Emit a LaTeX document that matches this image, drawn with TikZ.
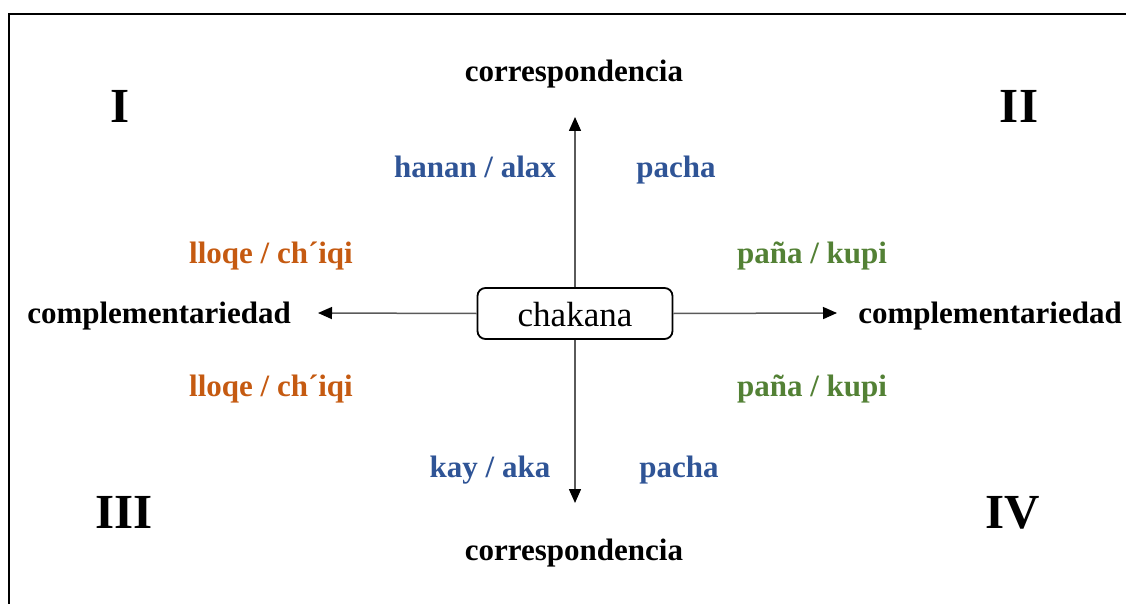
\documentclass[tikz,border=0pt]{standalone}
\usepackage{fontspec}
\setmainfont{Liberation Serif}
\usetikzlibrary{arrows.meta}
\definecolor{lblblue}{HTML}{2F5496}
\definecolor{lblorange}{HTML}{C55A11}
\definecolor{lblgreen}{HTML}{538135}
\definecolor{axisgray}{HTML}{5A5A5A}
\tikzset{
  lbl/.style={anchor=base, inner sep=0pt, font=\fontsize{31}{31}\selectfont\bfseries},
  roman/.style={anchor=base, inner sep=0pt, font=\fontsize{49}{49}\selectfont\bfseries},
  centerbox/.style={draw=black, line width=1.8pt, rounded corners=8pt, minimum width=195pt, minimum height=51pt, inner sep=0pt},
  axis/.style={draw=axisgray, line width=1.5pt, -{Triangle[length=14pt,width=12pt,color=black]}},
}
\begin{document}
\begin{tikzpicture}[x=1pt,y=-1pt]
\useasboundingbox (0,0) rectangle (1126,604);
\draw[line width=2pt] (9,604) -- (9,14) -- (1126,14);

\node[centerbox] (chk) at (575,313.5) {};
\node[anchor=base, inner sep=0pt, font=\fontsize{35}{35}\selectfont] (chktxt) at (575,326) {chakana};

\node[lbl] (ctop) at (574,82) {correspondencia};
\node[lbl] (cbot) at (574,560) {correspondencia};
\node[lbl] (cleft) at (159,323) {complementariedad};
\node[lbl] (cright) at (990,323) {complementariedad};

\node[lbl, text=lblblue] (hanan) at (475,178) {hanan / alax};
\node[lbl, text=lblblue] (pachatop) at (676,178) {pacha};
\node[lbl, text=lblblue] (kay) at (490,477) {kay / aka};
\node[lbl, text=lblblue] (pachabot) at (679,477) {pacha};

\node[lbl, text=lblorange] (lloqeup) at (271,263) {lloqe / ch´iqi};
\node[lbl, text=lblorange] (lloqedn) at (271,396) {lloqe / ch´iqi};
\node[lbl, text=lblgreen] (panaup) at (812,263) {paña / kupi};
\node[lbl, text=lblgreen] (panadn) at (812,396) {paña / kupi};

\node[roman] (r1) at (120,123) {I};
\node[roman] (r2) at (1019,123) {II};
\node[roman] (r3) at (124,528) {III};
\node[roman] (r4) at (1013,528) {IV};

\coordinate (tipN) at (575,117);
\coordinate (tipS) at (575,503);
\coordinate (tipW) at (318,313);
\coordinate (tipE) at (837,313);

\draw[axis] (chk.north) -- (tipN);
\draw[axis] (chk.south) -- (tipS);
\draw[axis] (chk.west) -- (tipW);
\draw[axis] (chk.east) -- (tipE);
\end{tikzpicture}
\end{document}
